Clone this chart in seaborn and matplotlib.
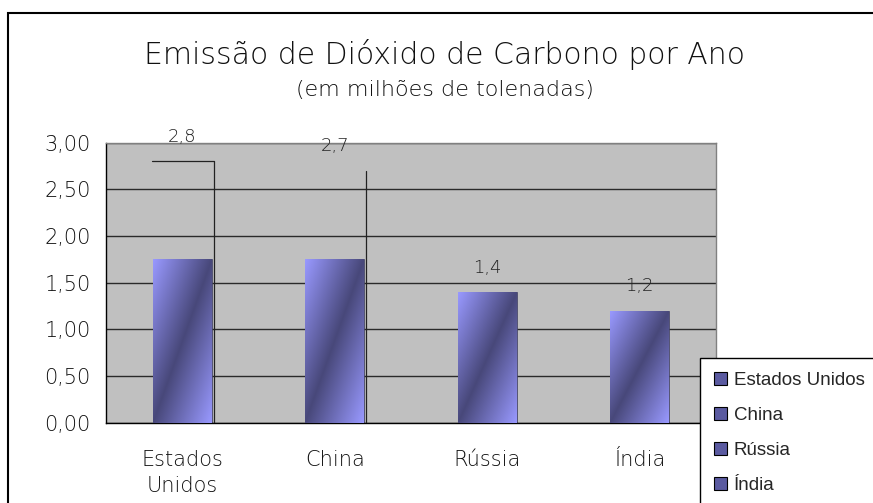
import numpy as np
import matplotlib
matplotlib.use("Agg")
import matplotlib.pyplot as plt
import seaborn as sns
from matplotlib.patches import Rectangle, Patch
from matplotlib.ticker import FuncFormatter, FixedLocator

# Dados do grafico
paises = ["Estados\nUnidos", "China", "Rússia", "Índia"]
legenda = ["Estados Unidos", "China", "Rússia", "Índia"]
alturas_barras = [1.75, 1.75, 1.4, 1.2]   # altura desenhada das barras
rotulos = [2.8, 2.7, 1.4, 1.2]            # valores escritos acima

sns.set_style("white")
plt.rcParams['font.family'] = ['DejaVu Sans']

claro = np.array([153, 153, 255]) / 255
escuro = np.array([72, 72, 122]) / 255

fig = plt.figure(figsize=(8.73, 5.03), dpi=100)
ax = fig.add_axes([106/873, 80.3/503, 610/873, 280/503])
ax.set_facecolor("#C0C0C0")

sns.barplot(x=paises, y=alturas_barras, color="#6a6ab8", width=0.385,
            edgecolor="#3a3a5a", linewidth=0.5, ax=ax, zorder=2)

# gradiente diagonal nas barras
n = 120
u, v = np.meshgrid(np.linspace(0, 1, n), np.linspace(0, 1, n))
t = (u + (1 - v)) / 2
s = 1 - np.abs(2 * t - 1)
img = claro[None, None, :] * (1 - s[..., None]) + escuro[None, None, :] * s[..., None]
for p in ax.patches:
    x0, w, h = p.get_x(), p.get_width(), p.get_height()
    im = ax.imshow(img, extent=[x0, x0 + w, 0, h], origin="lower",
                   aspect="auto", zorder=3, interpolation="bilinear")
    im.set_clip_path(p)

# rotulos de valor
for i, r in enumerate(rotulos):
    ax.text(i, r + 0.26, f"{r:.1f}".replace(".", ","), ha="center", va="center",
            fontsize=13, color="#222222", fontweight="light", zorder=5)

# linhas de chamada
meia = 0.385 / 2 + 0.015
ax.plot([-0.2, meia, meia], [rotulos[0], rotulos[0], 0], color="#222222", lw=0.9, zorder=4)
ax.plot([1 + meia, 1 + meia], [rotulos[1], 0], color="#222222", lw=0.9, zorder=4)

ax.set_xlim(-0.5, 3.5)
ax.set_ylim(0, 3)
ax.set_yticks(np.arange(0, 3.01, 0.5))
ax.yaxis.set_major_formatter(FuncFormatter(lambda y, _: f"{y:.2f}".replace(".", ",")))
ax.set_axisbelow(True)
ax.yaxis.grid(True, color="#2a2a2a", lw=1)
ax.xaxis.grid(False)

ax.xaxis.set_minor_locator(FixedLocator([-0.5, 0.5, 1.5, 2.5, 3.5]))
ax.tick_params(axis="x", which="major", length=0, pad=20, labelsize=15)
ax.tick_params(axis="x", which="minor", length=7, width=1, color="black", direction="out")
ax.tick_params(axis="y", length=7, width=1, color="black", direction="out", labelsize=15, pad=4)
for lab in ax.get_xticklabels() + ax.get_yticklabels():
    lab.set_fontweight("light")
    lab.set_color("#111111")
    lab.set_linespacing(1.35)
ax.set_xlabel("")

for side in ["left", "bottom"]:
    ax.spines[side].set_color("black")
    ax.spines[side].set_linewidth(1)
for side in ["top", "right"]:
    ax.spines[side].set_color("#808080")
    ax.spines[side].set_linewidth(1)

fig.text(444/873, 1 - 55/503, "Emissão de Dióxido de Carbono por Ano",
         ha="center", va="center", fontsize=21.5, fontweight="light", color="#111111")
fig.text(445/873, 1 - 90/503, "(em milhões de tolenadas)",
         ha="center", va="center", fontsize=16, fontweight="light", color="#111111")

# legenda
handles = [Patch(facecolor="#5a5aa0", edgecolor="black", linewidth=0.8) for _ in legenda]
leg = fig.legend(handles, legenda, loc="upper left",
                 bbox_to_anchor=(700/873, 1 - 358/503), bbox_transform=fig.transFigure,
                 frameon=True, fancybox=False, framealpha=1, edgecolor="black",
                 prop={"family": "Liberation Sans", "size": 13.5},
                 handlelength=0.7, handleheight=0.7, handletextpad=0.35,
                 labelspacing=0.95, borderpad=0.75, borderaxespad=0)
leg.get_frame().set_linewidth(1)

# moldura externa
fig.add_artist(Rectangle((8/873, -0.2), 1.2, 1 - 13/503 + 0.2, transform=fig.transFigure,
                         fill=False, edgecolor="black", lw=1.5))

fig.savefig("out.png", dpi=100)
